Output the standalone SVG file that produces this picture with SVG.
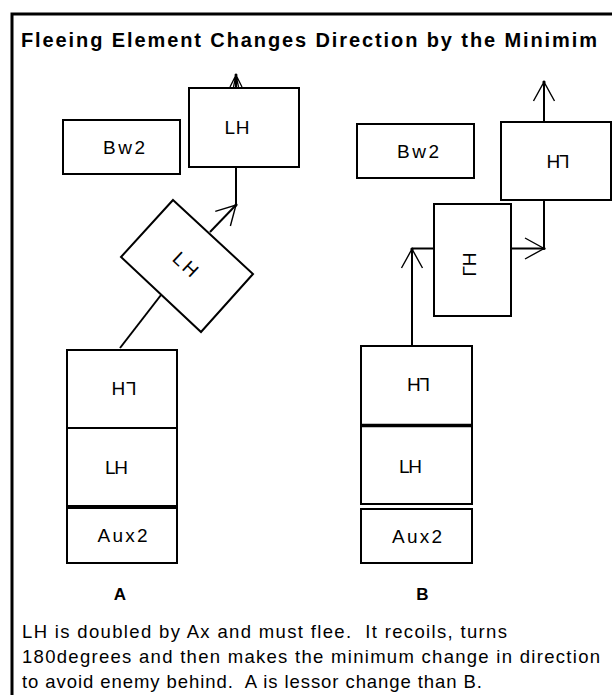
<svg xmlns="http://www.w3.org/2000/svg" width="612" height="695" viewBox="0 0 612 695">
<style>
.box{fill:#fff;stroke:#000;stroke-width:2}
.lbl{font-family:"Liberation Sans",Arial,sans-serif;font-size:19px;text-anchor:middle;fill:#000}
.ln{stroke:#000;stroke-width:2;fill:none}
.title{font-family:"Liberation Sans",Arial,sans-serif;font-size:20px;font-weight:bold;fill:#000}
.body{font-family:"Liberation Sans",Arial,sans-serif;font-size:18.5px;fill:#000;white-space:pre}
.cap{font-family:"Liberation Sans",Arial,sans-serif;font-size:17px;font-weight:bold;text-anchor:middle;fill:#000}
</style>
<defs>
<marker id="arr" markerUnits="userSpaceOnUse" orient="auto" markerWidth="30" markerHeight="30" viewBox="-25 -15 30 30" refX="0" refY="0" overflow="visible">
<path d="M-19,-10.5 L0,0 L-19,10.5" fill="none" stroke="#000" stroke-width="1.4"/>
<circle cx="0" cy="0" r="1.6" fill="#000"/>
</marker>
<marker id="arrs" markerUnits="userSpaceOnUse" orient="auto" markerWidth="20" markerHeight="20" viewBox="-15 -10 20 20" refX="0" refY="0" overflow="visible">
<path d="M-12,-6 L0,0 L-12,6 M-12,-2.5 L0,0 L-12,2.5" fill="none" stroke="#000" stroke-width="1.3"/>
<circle cx="0" cy="0" r="1.5" fill="#000"/>
</marker>
</defs>
<rect x="0" y="0" width="612" height="695" fill="#fff"/>
<path d="M12,700 V14 H620" fill="none" stroke="#000" stroke-width="3"/>
<text class="title" x="21" y="47" textLength="576" lengthAdjust="spacing">Fleeing Element Changes Direction by the Minimim</text>

<g id="connectors">
<line class="ln" x1="236" y1="88" x2="236" y2="75" marker-end="url(#arrs)"/>
<line class="ln" x1="236" y1="167" x2="236" y2="205"/>
<line class="ln" x1="210" y1="232" x2="236" y2="205" stroke-width="1.6" marker-end="url(#arr)"/>
<line class="ln" x1="161" y1="295" x2="120" y2="348" stroke-width="1.6"/>
<line class="ln" x1="544" y1="122" x2="544" y2="82" marker-end="url(#arr)"/>
<line class="ln" x1="544" y1="200" x2="544" y2="248.5"/>
<line class="ln" x1="511" y1="248.5" x2="544" y2="248.5" marker-end="url(#arr)"/>
<line class="ln" x1="412" y1="346" x2="412" y2="249" marker-end="url(#arr)"/>
<line class="ln" x1="412" y1="248.5" x2="434" y2="248.5"/>
</g>

<g id="a-bw2">
<rect class="box" x="63" y="120" width="117" height="54"/>
<text class="lbl" x="124" y="154" textLength="42" lengthAdjust="spacing">Bw2</text>
</g>
<g id="a-lh-end">
<rect class="box" x="189" y="88" width="110" height="79"/>
<text class="lbl" x="237" y="134" textLength="25" lengthAdjust="spacing">LH</text>
</g>
<g id="a-lh-turning">
<polygon class="box" points="173,200 253,274 201,332 121,257" stroke-width="1.6"/>
<text class="lbl" transform="translate(186,264) rotate(43)" x="0" y="7" textLength="27" lengthAdjust="spacing">LH</text>
</g>
<g id="a-h1">
<rect class="box" x="67" y="350" width="110" height="78"/>
<text class="lbl" transform="translate(124,388.5) rotate(180)" x="0" y="7" textLength="25" lengthAdjust="spacing">LH</text>
</g>
<g id="a-lh">
<rect class="box" x="67" y="428" width="110" height="78"/>
<text class="lbl" x="116.5" y="474" textLength="23" lengthAdjust="spacing">LH</text>
</g>
<g id="a-aux2">
<rect class="box" x="67" y="508" width="110" height="55"/>
<line x1="67" y1="507" x2="177" y2="507" stroke="#000" stroke-width="3.5"/>
<text class="lbl" x="122.5" y="542" textLength="50" lengthAdjust="spacing">Aux2</text>
</g>
<text id="label-a" class="cap" x="120" y="599.5">A</text>

<g id="b-bw2">
<rect class="box" x="357" y="124" width="117" height="54"/>
<text class="lbl" x="418" y="157.5" textLength="42" lengthAdjust="spacing">Bw2</text>
</g>
<g id="b-h1-end">
<rect class="box" x="501" y="122" width="110" height="78"/>
<text class="lbl" transform="translate(558,162) rotate(180)" x="0" y="7" textLength="23" lengthAdjust="spacing">LH</text>
</g>
<g id="b-lh-turning">
<rect class="box" x="434" y="204" width="77" height="112"/>
<text class="lbl" transform="matrix(0,-1,-1,0,470,264.5)" x="0" y="7" textLength="24" lengthAdjust="spacing">LH</text>
</g>
<g id="b-h1">
<rect class="box" x="361" y="346" width="111" height="80"/>
<text class="lbl" transform="translate(418.5,385) rotate(180)" x="0" y="7" textLength="23" lengthAdjust="spacing">LH</text>
</g>
<g id="b-lh">
<rect class="box" x="361" y="426" width="111" height="78"/>
<line x1="361" y1="425.5" x2="472" y2="425.5" stroke="#000" stroke-width="3.5"/>
<text class="lbl" x="410.5" y="472.5" textLength="23" lengthAdjust="spacing">LH</text>
</g>
<g id="b-aux2">
<rect class="box" x="361" y="509" width="111" height="54"/>
<text class="lbl" x="417" y="542.5" textLength="50" lengthAdjust="spacing">Aux2</text>
</g>
<text id="label-b" class="cap" x="422.5" y="599.5">B</text>

<g id="caption">
<text class="body" x="22" y="637.5" textLength="485" lengthAdjust="spacing">LH is doubled by Ax and must flee.  It recoils, turns</text>
<text class="body" x="22" y="663" textLength="578" lengthAdjust="spacing">180degrees and then makes the minimum change in direction</text>
<text class="body" x="22" y="687.5" textLength="460" lengthAdjust="spacing">to avoid enemy behind.  A is lessor change than B.</text>
</g>
</svg>
